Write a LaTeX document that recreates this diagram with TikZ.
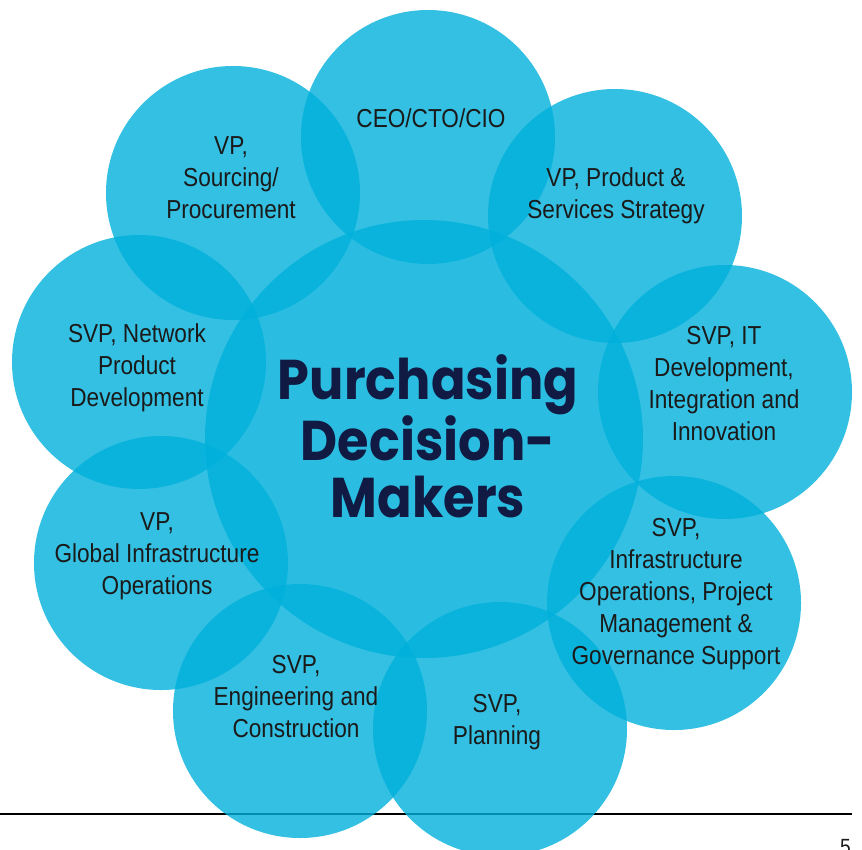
\documentclass[tikz,border=0pt]{standalone}
\usepackage{fontspec}
\setmainfont{Liberation Sans}[FakeStretch=0.87]
\newfontfamily\titlefont{Poppins}[FakeStretch=0.91]
\definecolor{petal}{RGB}{0,176,219}
\definecolor{navy}{RGB}{17,26,66}
\definecolor{ink}{RGB}{26,26,26}
\tikzset{
  petalbox/.style={circle, fill=petal, fill opacity=0.8, draw=none,
    minimum size=254pt, inner sep=0pt},
  hubbox/.style={circle, fill=petal, fill opacity=0.83, draw=none,
    minimum size=438pt, inner sep=0pt},
  rolelabel/.style={align=center, text=ink, inner sep=0pt,
    font=\fontsize{26}{32}\selectfont},
  hublabel/.style={align=center, text=navy, inner sep=0pt,
    font=\titlefont\bfseries\fontsize{56}{56.5}\selectfont}
}
\begin{document}
\begin{tikzpicture}[x=1pt,y=-1pt]
\useasboundingbox (0,0) rectangle (862,849);

% footer rule, lying under the translucent circles
\coordinate (ruleL) at (0,814);
\coordinate (ruleR) at (852,814);
\draw[line width=1.5pt, black] (ruleL) -- (ruleR);

% central circle
\node[hubbox] (hub) at (424,439) {};

% surrounding circles
\node[petalbox] (ceo)   at (428,137) {};
\node[petalbox] (src)   at (233,193) {};
\node[petalbox] (prod)  at (615,216) {};
\node[petalbox] (itdev) at (725,392) {};
\node[petalbox] (infra) at (674,603) {};
\node[petalbox] (plan)  at (500,729) {};
\node[petalbox] (eng)   at (300,711) {};
\node[petalbox] (glob)  at (161,563) {};
\node[petalbox] (net)   at (139,362) {};

% labels
\node[hublabel] (title) at (428,436) {Purchasing\\Decision-\\Makers};
\node[rolelabel] (tceo)  at (431,118) {CEO/CTO/CIO};
\node[rolelabel] (tsrc)  at (231,178) {VP,\\Sourcing/\\Procurement};
\node[rolelabel] (tprod) at (616,196) {VP, Product \&\\Services Strategy};
\node[rolelabel] (tit)   at (724,384) {SVP, IT\\Development,\\Integration and\\Innovation};
\node[rolelabel] (tinf)  at (676,594) {SVP,\\Infrastructure\\Operations, Project\\Management \&\\Governance Support};
\node[rolelabel] (tplan) at (497,722) {SVP,\\Planning};
\node[rolelabel] (teng)  at (296,697) {SVP,\\Engineering and\\Construction};
\node[rolelabel] (tglob) at (157,556) {VP,\\Global Infrastructure\\Operations};
\node[rolelabel] (tnet)  at (137,368) {SVP, Network\\Product\\Development};

% page number, running off the lower edge of the page
\node[anchor=north west, inner sep=0pt, text=ink,
  font=\fontsize{22}{22}\selectfont] (pg) at (840,839) {5};
\end{tikzpicture}
\end{document}
